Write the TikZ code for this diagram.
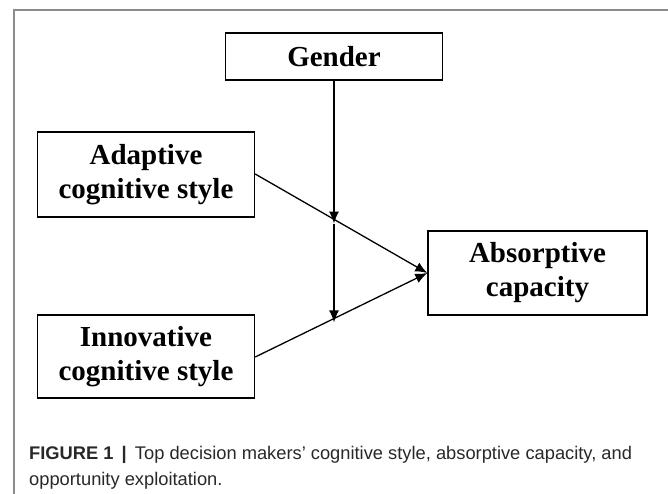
\documentclass[tikz,border=0pt]{standalone}
\usepackage{fontspec}
\setmainfont{Liberation Serif}
\setsansfont{Liberation Sans}
\usetikzlibrary{arrows.meta}
\definecolor{framegray}{RGB}{140,140,140}
\definecolor{captiongray}{RGB}{40,40,40}
\begin{document}
\begin{tikzpicture}[x=1pt,y=-1pt]
\tikzstyle{var node}=[rectangle,draw,line width=1.4pt,inner sep=0,align=center,
	minimum width=217pt,font=\bfseries\fontsize{29}{34}\selectfont]
\tikzset{
	path line/.style={line width=1.3pt,-{Latex[length=12pt,width=10pt]}},
	caption text/.style={anchor=north west,align=left,inner sep=0,text=captiongray,
		font=\sffamily\fontsize{18.3}{26.5}\selectfont}
}
\useasboundingbox (0,0) rectangle (668,494);
% frame
\draw[framegray,line width=1.5pt] (14,494) -- (14,10) -- (668,10);
% variables
\node[var node,minimum height=47pt] (gender) at (334,56.5) {Gender};
\node[var node,minimum height=85pt] (adaptive) at (146,174.5) {Adaptive\\cognitive style};
\node[var node,minimum height=83pt] (innovative) at (146,356.5) {Innovative\\cognitive style};
\node[var node,minimum height=84pt,minimum width=219pt] (absorptive) at (537.5,273) {Absorptive\\capacity};
% main effects
\draw[path line] (adaptive.east |- 0,174) -- coordinate[pos=0.46] (on adaptive) (absorptive.west);
\draw[path line] (innovative.east |- 0,357) -- coordinate[pos=0.46] (on innovative) (absorptive.west);
% moderation
\draw[path line] (gender.south) -- ([yshift=-4pt]gender.south |- on adaptive);
\draw[path line] ([yshift=-4pt]gender.south |- on adaptive) -- ([yshift=-4pt]gender.south |- on innovative);
% caption
\node[caption text] (caption) at (29,446) {\textbf{FIGURE 1} \,\textbf{|}\, Top decision makers' cognitive style, absorptive capacity, and\\opportunity exploitation.};
\end{tikzpicture}
\end{document}
